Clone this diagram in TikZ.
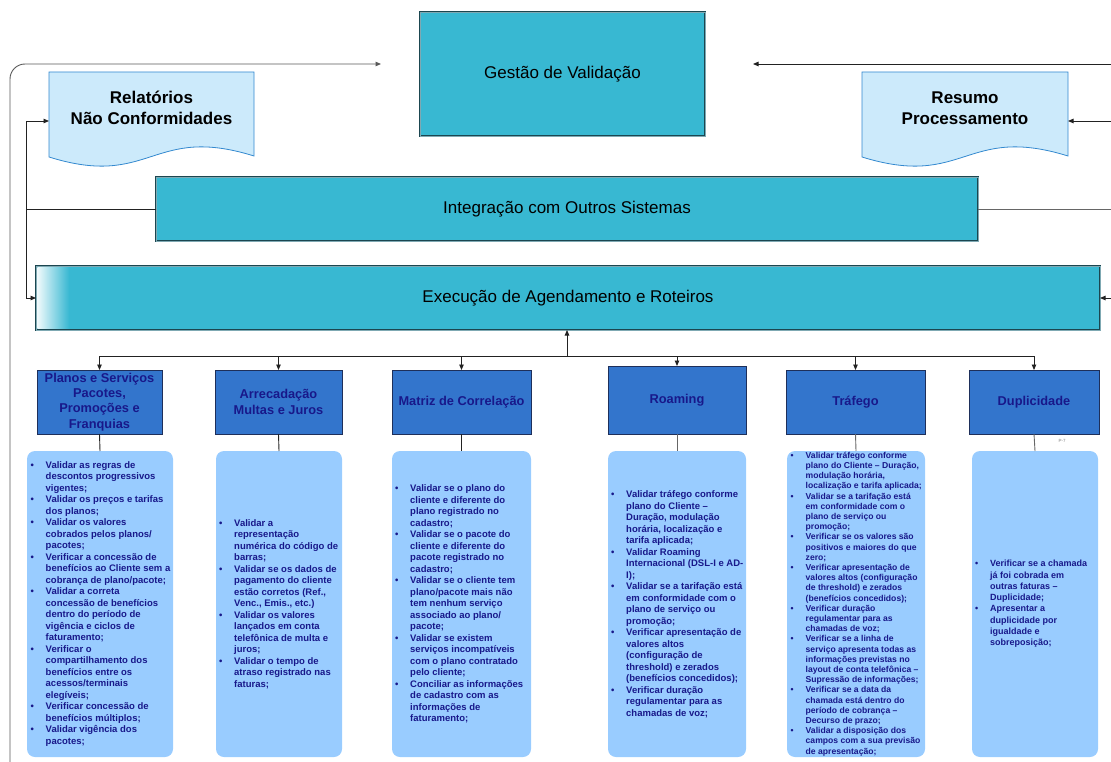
\documentclass[tikz,border=0pt]{standalone}
\usepackage{fontspec}
\setmainfont{Liberation Sans}
\usetikzlibrary{arrows.meta,calc,backgrounds}
\definecolor{cyanbox}{HTML}{38B8D2}
\definecolor{catfill}{HTML}{3375CC}
\definecolor{catedge}{HTML}{1E2F5A}
\definecolor{cattext}{HTML}{18188A}
\definecolor{panelfill}{HTML}{99CCFF}
\definecolor{doccol}{HTML}{CCEAFB}
\definecolor{docedge}{HTML}{3389CF}
\definecolor{bigedge}{HTML}{1B4650}
\definecolor{biginner}{HTML}{7FA9B3}
\definecolor{linecol}{HTML}{222222}
\newlength\bulw
\setlength\bulw{15pt}
\newcommand\pbul{\makebox[\bulw][l]{\textbullet}}
\newcommand\pcon{\hspace*{\bulw}}
\begin{document}
\begin{tikzpicture}[x=1pt,y=-1pt,
  bigbox/.style={draw=bigedge,line width=0.9pt,double=biginner,double distance=0.8pt,
    fill=cyanbox,inner sep=0pt,outer sep=0pt,font=\fontsize{17}{20}\selectfont},
  catbox/.style={draw=catedge,line width=0.8pt,fill=catfill,inner sep=0pt,outer sep=0pt,
    text=cattext,align=center,font=\fontsize{12.8}{15.3}\selectfont\bfseries,minimum height=64pt},
  panel/.style={fill=panelfill,rounded corners=8pt,inner sep=0pt,outer sep=0pt,minimum height=306pt},
  ptext/.style={anchor=west,align=left,inner sep=0pt,text=cattext,font=\fontsize{9.5}{11.5}\selectfont\bfseries},
  docbox/.style={inner sep=0pt,outer sep=0pt,minimum width=205pt,minimum height=72pt,align=center,
    font=\fontsize{17}{20.7}\selectfont\bfseries},
  docshape/.style={fill=doccol,draw=docedge,line width=0.8pt},
  conn/.style={draw=linecol,line width=0.9pt},
  arr/.style={conn,-{Triangle[length=5.5pt,width=4.5pt]}}
]
\useasboundingbox (0,0) rectangle (1111,762);

% top level boxes
\node[bigbox,minimum width=285pt,minimum height=124pt] (gestao) at (562.5,74) {Gestão de Validação};
\node[bigbox,minimum width=822pt,minimum height=64pt] (integ) at (567,209) {Integração com Outros Sistemas};
\node[bigbox,minimum width=1064pt,minimum height=64pt] (exec) at (568,298) {Execução de Agendamento e Roteiros};
\shade[left color=white!92!cyanbox,right color=cyanbox]
  ([xshift=1.4pt,yshift=-1.4pt]exec.north west) rectangle ([xshift=33pt,yshift=1.4pt]exec.south west);

% documents
\node[docbox] (rel) at (151.5,108) {Relatórios\\Não Conformidades};
\node[docbox,minimum width=206pt] (res) at (965,108) {Resumo\\Processamento};
\begin{scope}[on background layer]
\draw[docshape] (rel.north west) -- (rel.north east) -- ([yshift=-12pt]rel.south east)
  .. controls +(-102.5,-32) and +(102.5,32) .. ([yshift=-13pt]rel.south west) -- cycle;
\draw[docshape] (res.north west) -- (res.north east) -- ([yshift=-12pt]res.south east)
  .. controls +(-103,-32) and +(103,32) .. ([yshift=-13pt]res.south west) -- cycle;
\end{scope}

% categories
\node[catbox,minimum width=125pt] (c1) at (99.5,402) {Planos e Serviços\\Pacotes,\\Promoções e\\Franquias};
\node[catbox,minimum width=127pt] (c2) at (278.5,402) {Arrecadação\\Multas e Juros};
\node[catbox,minimum width=139pt] (c3) at (461.5,402) {Matriz de Correlação};
\node[catbox,minimum width=138pt,minimum height=68pt] (c4) at (677,400) {Roaming};
\node[catbox,minimum width=139pt] (c5) at (855.5,402) {Tráfego};
\node[catbox,minimum width=130pt] (c6) at (1034,402) {Duplicidade};

% panels
\node[panel,minimum width=146pt] (p1) at (100,604) {};
\node[panel,minimum width=126pt] (p2) at (279,604) {};
\node[panel,minimum width=139pt] (p3) at (461.5,604) {};
\node[panel,minimum width=138pt] (p4) at (677,604) {};
\node[panel,minimum width=138pt] (p5) at (856,604) {};
\node[panel,minimum width=126pt] (p6) at (1035,604) {};

\node[ptext] (t1) at ([xshift=3.5pt]p1.west) {%
\pbul Validar as regras de\\
\pcon descontos progressivos\\
\pcon vigentes;\\
\pbul Validar os preços e tarifas\\
\pcon dos planos;\\
\pbul Validar os valores\\
\pcon cobrados pelos planos/\\
\pcon pacotes;\\
\pbul Verificar a concessão de\\
\pcon benefícios ao Cliente sem a\\
\pcon cobrança de plano/pacote;\\
\pbul Validar a correta\\
\pcon concessão de benefícios\\
\pcon dentro do período de\\
\pcon vigência e ciclos de\\
\pcon faturamento;\\
\pbul Verificar o\\
\pcon compartilhamento dos\\
\pcon benefícios entre os\\
\pcon acessos/terminais\\
\pcon elegíveis;\\
\pbul Verificar concessão de\\
\pcon benefícios múltiplos;\\
\pbul Validar vigência dos\\
\pcon pacotes;};

\node[ptext] (t2) at ([xshift=3pt]p2.west) {%
\pbul Validar a\\
\pcon representação\\
\pcon numérica do código de\\
\pcon barras;\\
\pbul Validar se os dados de\\
\pcon pagamento do cliente\\
\pcon estão corretos (Ref.,\\
\pcon Venc., Emis., etc.)\\
\pbul Validar os valores\\
\pcon lançados em conta\\
\pcon telefônica de multa e\\
\pcon juros;\\
\pbul Validar o tempo de\\
\pcon atraso registrado nas\\
\pcon faturas;};

\node[ptext] (t3) at ([xshift=3pt]p3.west) {%
\pbul Validar se o plano do\\
\pcon cliente e diferente do\\
\pcon plano registrado no\\
\pcon cadastro;\\
\pbul Validar se o pacote do\\
\pcon cliente e diferente do\\
\pcon pacote registrado no\\
\pcon cadastro;\\
\pbul Validar se o cliente tem\\
\pcon plano/pacote mais não\\
\pcon tem nenhum serviço\\
\pcon associado ao plano/\\
\pcon pacote;\\
\pbul Validar se existem\\
\pcon serviços incompatíveis\\
\pcon com o plano contratado\\
\pcon pelo cliente;\\
\pbul Conciliar as informações\\
\pcon de cadastro com as\\
\pcon informações de\\
\pcon faturamento;};

\node[ptext] (t4) at ([xshift=3pt]p4.west) {%
\pbul Validar tráfego conforme\\
\pcon plano do Cliente –\\
\pcon Duração, modulação\\
\pcon horária, localização e\\
\pcon tarifa aplicada;\\
\pbul Validar Roaming\\
\pcon Internacional (DSL-I e AD-\\
\pcon I);\\
\pbul Validar se a tarifação está\\
\pcon em conformidade com o\\
\pcon plano de serviço ou\\
\pcon promoção;\\
\pbul Verificar apresentação de\\
\pcon valores altos\\
\pcon (configuração de\\
\pcon threshold) e zerados\\
\pcon (benefícios concedidos);\\
\pbul Verificar duração\\
\pcon regulamentar para as\\
\pcon chamadas de voz;};

\node[ptext,font=\fontsize{8.6}{10.2}\selectfont\bfseries] (t5) at ([xshift=3.5pt]p5.west) {%
\pbul Validar tráfego conforme\\
\pcon plano do Cliente – Duração,\\
\pcon modulação horária,\\
\pcon localização e tarifa aplicada;\\
\pbul Validar se a tarifação está\\
\pcon em conformidade com o\\
\pcon plano de serviço ou\\
\pcon promoção;\\
\pbul Verificar se os valores são\\
\pcon positivos e maiores do que\\
\pcon zero;\\
\pbul Verificar apresentação de\\
\pcon valores altos (configuração\\
\pcon de threshold) e zerados\\
\pcon (benefícios concedidos);\\
\pbul Verificar duração\\
\pcon regulamentar para as\\
\pcon chamadas de voz;\\
\pbul Verificar se a linha de\\
\pcon serviço apresenta todas as\\
\pcon informações previstas no\\
\pcon layout de conta telefônica –\\
\pcon Supressão de informações;\\
\pbul Verificar se a data da\\
\pcon chamada está dentro do\\
\pcon período de cobrança –\\
\pcon Decurso de prazo;\\
\pbul Validar a disposição dos\\
\pcon campos com a sua previsão\\
\pcon de apresentação;};

\node[ptext,font=\fontsize{9}{11.3}\selectfont\bfseries] (t6) at ([xshift=3pt]p6.west) {%
\pbul Verificar se a chamada\\
\pcon já foi cobrada em\\
\pcon outras faturas –\\
\pcon Duplicidade;\\
\pbul Apresentar a\\
\pcon duplicidade por\\
\pcon igualdade e\\
\pcon sobreposição;};

\node[font=\fontsize{4.5}{5}\selectfont,text=gray,inner sep=0pt] (p7) at (1062,441) {P-7};

% free ends
\coordinate (lb) at (10,762);
\coordinate (lt) at (381,64);
\coordinate (rt) at (1111,64);
\coordinate (gr) at (753,64);
\coordinate (rr) at (1111,121);
\coordinate (ri) at (1111,209);
\coordinate (rx) at (1111,298);
\coordinate (lv) at (26,209);
\coordinate (bus) at (567,356);

% connectors
\draw[arr,draw=black!65,rounded corners=15pt] (lb) |- (lt);
\draw[arr] (rt) -- (gr);
\draw[arr] (rr) -- ([yshift=-13pt]res.east);
\draw[conn,draw=black!60] (integ.east) -- (ri);
\draw[arr] (rx) -- (exec.east);
\draw[conn] (integ.west) -- (lv);
\draw[arr] (lv) |- ([yshift=-13pt]rel.west);
\draw[arr] (lv) |- (exec.west);

\draw[conn] (c1.north |- bus) -- (c6.north |- bus);
\draw[arr] (bus) -- (exec.south -| bus);
\foreach \c in {c1,c2,c3,c4,c5,c6}{
  \draw[arr] (\c.north |- bus) -- (\c.north);
}
\draw[conn] (c1.south) -- (p1.north);
\draw[conn] (c2.south) -- (p2.north);
\draw[conn] (c3.south) -- (p3.north);
\draw[conn,draw=black!60] (c4.south) -- (p4.north);
\draw[conn,draw=black!60] (c5.south) -- (p5.north);
\draw[conn,draw=black!60] (c6.south) -- (p6.north);
\end{tikzpicture}
\end{document}
